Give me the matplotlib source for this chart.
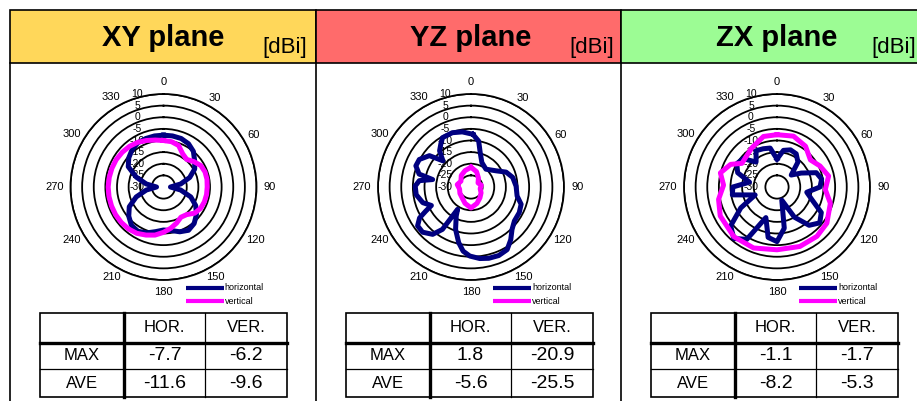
import numpy as np
import matplotlib
matplotlib.use("Agg")
import matplotlib.pyplot as plt
from matplotlib.patches import Rectangle

plt.rcParams['font.family'] = ['Liberation Sans', 'DejaVu Sans']

W, H = 917, 401

# ---------------- data ----------------
planes = ["XY plane", "YZ plane", "ZX plane"]
unit_label = "[dBi]"
angle_ticks = list(range(0, 360, 30))
radial_ticks = [10, 5, 0, -5, -10, -15, -20, -25, -30]
series_names = ["horizontal", "vertical"]
row_labels = ["MAX", "AVE"]
col_labels = ["HOR.", "VER."]

xy_hor_deg = list(range(0, 360, 10))
xy_hor_db = [-7.7, -7.7, -7.8, -8.5, -10, -12.5, -14.5, -18, -22.5, -27, -22.5, -17.5,
             -14, -11.5, -9.5, -8.5, -9.5, -11, -11.5, -10.5, -9, -8, -8.5, -10.5,
             -13, -17.5, -22.5, -27, -22.5, -17.5, -12.5, -10.5, -9, -8, -7.8, -7.7]
xy_ver_deg = list(range(0, 360, 10))
xy_ver_db = [-10, -10.2, -11, -13.5, -14.5, -13, -11.5, -11, -11, -11.2, -11.2, -11.3,
             -11.6, -12.5, -14.5, -15, -13.5, -12, -10.5, -9, -8, -7, -6.5, -6.3,
             -6.2, -6.2, -6.2, -6.2, -6.3, -6.4, -6.5, -6.8, -7.2, -7.8, -8.7, -9.5]

yz_hor_deg = [2, 9.5, 15, 24, 40, 57, 67, 77, 89, 101, 109, 118, 128, 136, 143, 150, 158,
              166, 173, 181, 187, 192.5, 200, 207, 211, 214, 219, 227, 234, 239, 242, 245,
              252, 262, 271, 277, 281, 284, 291, 298, 307, 313, 319, 326, 330, 341, 351]
yz_hor_db = [-7.3, -10, -14.7, -18.5, -20, -17.2, -13.6, -11.6, -10.6, -9.8, -7.2, -6.5,
             -6.3, -4.6, -1.6, 1.1, 1.8, 1.6, 1.0, -0.3, -2.2, -5.5, -10.6, -16, -18.8,
             -8, -3.8, -1.5, -1.6, -4.2, -8, -11.2, -8.2, -6.2, -6, -7.6, -13.2, -7, -4.6,
             -4.8, -7.6, -13.5, -9.4, -7, -5.5, -5.3, -6]
yz_ver_deg = list(range(0, 360, 20))
yz_ver_db = [-21.5, -23, -25, -26.5, -25.5, -26, -25, -24, -22.5, -21, -22.5, -24,
             -24.5, -25, -24, -25, -23.5, -22.5]

zx_hor_deg = list(range(0, 360, 10))
zx_hor_db = [-18, -14, -13, -13.5, -16, -22, -18, -12, -10.5, -11.5, -17, -14,
             -8, -6, -8.5, -15, -24, -12, -6.5, -8, -16, -4, -1.1, -4,
             -12, -20, -10.5, -11, -18, -12, -10, -11, -16, -12, -12.5, -13]
zx_ver_deg = [0, 18, 35, 51, 64, 78, 93, 107, 126, 141, 159, 180, 201, 221, 243, 258,
              272, 284, 296, 304, 327, 345]
zx_ver_db = [-7.5, -7, -8.6, -11.5, -9.4, -7.3, -9.2, -6, -3.5, -2.7, -2.6, -3, -1.9,
             -1.7, -2.6, -4.3, -7, -4.9, -7.8, -11.8, -10, -7.5]

max_hor = [-7.7, 1.8, -1.1]
max_ver = [-6.2, -20.9, -1.7]
ave_hor = [-11.6, -5.6, -8.2]
ave_ver = [-9.6, -25.5, -5.3]

hor_series = [(xy_hor_deg, xy_hor_db), (yz_hor_deg, yz_hor_db), (zx_hor_deg, zx_hor_db)]
ver_series = [(xy_ver_deg, xy_ver_db), (yz_ver_deg, yz_ver_db), (zx_ver_deg, zx_ver_db)]

# ---------------- layout / style ----------------
panel_left = [10, 316, 621]
panel_right = [316, 621, 940]
unit_x = [262, 569, 871]
header_colors = ['#FFD75A', '#FF6B6B', '#9CFC94']
centers_x = [163.5, 471, 777]
center_y = 187
R = 93
HOR_COLOR = '#000080'
VER_COLOR = '#FF00FF'

fig = plt.figure(figsize=(W / 100, H / 100), dpi=100)
fig.patch.set_facecolor('white')

bg = fig.add_axes([0, 0, 1, 1], zorder=0)
bg.set_xlim(0, W)
bg.set_ylim(H, 0)
bg.axis('off')

for i in range(3):
    x0, x1 = panel_left[i], panel_right[i]
    bg.add_patch(Rectangle((x0, 10), x1 - x0, 53, facecolor=header_colors[i],
                           edgecolor='black', lw=1.2))
    bg.plot([x0, x0], [63, H + 5], color='black', lw=1.2)
    bg.text(centers_x[i], 46, planes[i], ha='center', va='baseline',
            fontsize=21, fontweight='bold')
    bg.text(unit_x[i], 53, unit_label, ha='left', va='baseline', fontsize=16)

    # legend
    cx = centers_x[i]
    for k, (name, col) in enumerate(zip(series_names, [HOR_COLOR, VER_COLOR])):
        yy = 288 + k * 13
        bg.plot([cx + 22, cx + 60], [yy, yy], color=col, lw=3, solid_capstyle='butt')
        bg.text(cx + 61, yy, name, ha='left', va='center', fontsize=6.5)

    # table
    tx = [x0 + 30, x0 + 114, x0 + 195, x0 + 277]
    ty = [313, 343, 369, 397]
    bg.add_patch(Rectangle((tx[0], ty[0]), tx[3] - tx[0], ty[3] - ty[0],
                           facecolor='white', edgecolor='black', lw=1.2))
    bg.plot([tx[0], tx[3]], [ty[1], ty[1]], color='black', lw=2.4)
    bg.plot([tx[1], tx[1]], [ty[0], ty[3]], color='black', lw=2.4)
    bg.plot([tx[2], tx[2]], [ty[0], ty[3]], color='black', lw=0.9)
    bg.plot([tx[0], tx[3]], [ty[2], ty[2]], color='black', lw=0.9)
    ccx = [(tx[j] + tx[j + 1]) / 2 for j in range(3)]
    ccy = [(ty[j] + ty[j + 1]) / 2 for j in range(3)]
    bg.text(ccx[1], ccy[0], col_labels[0], ha='center', va='center', fontsize=12)
    bg.text(ccx[2], ccy[0], col_labels[1], ha='center', va='center', fontsize=12)
    bg.text(ccx[0], ccy[1], row_labels[0], ha='center', va='center', fontsize=12)
    bg.text(ccx[0], ccy[2], row_labels[1], ha='center', va='center', fontsize=12)
    bg.text(ccx[1], ccy[1], f"{max_hor[i]:.1f}", ha='center', va='center', fontsize=14)
    bg.text(ccx[2], ccy[1], f"{max_ver[i]:.1f}", ha='center', va='center', fontsize=14)
    bg.text(ccx[1], ccy[2], f"{ave_hor[i]:.1f}", ha='center', va='center', fontsize=14)
    bg.text(ccx[2], ccy[2], f"{ave_ver[i]:.1f}", ha='center', va='center', fontsize=14)

    # polar chart
    ax = fig.add_axes([(cx - R) / W, 1 - (center_y + R) / H, 2 * R / W, 2 * R / H],
                      projection='polar', zorder=2)
    ax.set_facecolor('white')
    ax.set_theta_zero_location('N')
    ax.set_theta_direction(-1)
    ax.set_ylim(-30, 10)
    ax.set_yticks(list(range(-25, 11, 5)))
    ax.set_yticklabels([])
    ax.set_xticks([])
    ax.yaxis.grid(True, color='black', lw=1.3)
    ax.spines['polar'].set_linewidth(1.3)
    ax.tick_params(axis='y', length=0)

    for v in radial_ticks:
        ax.annotate(str(v), xy=(0, v), xytext=(-26, 0), textcoords='offset pixels',
                    ha='center', va='center', fontsize=7.5, annotation_clip=False,
                    zorder=1)
    for a in angle_ticks:
        s = str(a)
        t = np.radians(a)
        w = 5.5 * len(s)
        off = (8 + (w / 2) * abs(np.sin(t)) + 4 * abs(np.cos(t))
               - 5 * abs(np.sin(2 * t)))
        ax.annotate(s, xy=(t, 10), xytext=(off * np.sin(t), off * np.cos(t)),
                    textcoords='offset pixels', ha='center', va='center', fontsize=8,
                    annotation_clip=False)

    for (deg, db), col in zip([hor_series[i], ver_series[i]], [HOR_COLOR, VER_COLOR]):
        th = np.radians(np.append(deg, deg[0]))
        rr = np.append(db, db[0])
        ax.plot(th, rr, color=col, lw=3.6, solid_joinstyle='round', zorder=3)

fig.savefig('out.png', dpi=100, facecolor='white')
